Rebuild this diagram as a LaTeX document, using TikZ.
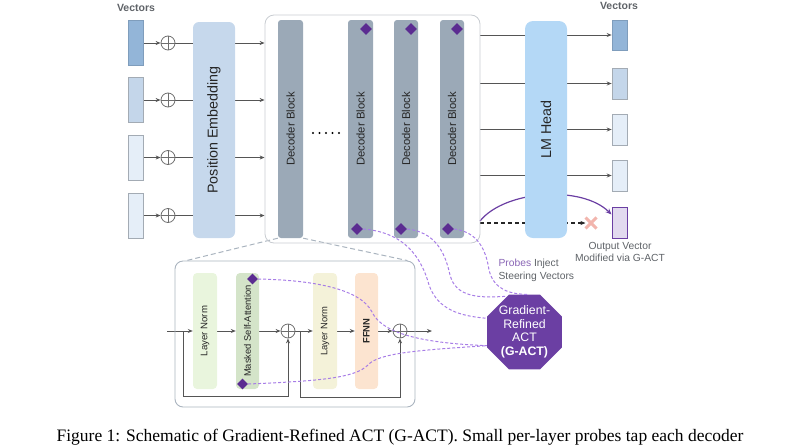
\documentclass[tikz,border=0pt]{standalone}
\usepackage{fontspec}
\setmainfont{Liberation Sans}
\newfontfamily\capfont{Liberation Serif}
\usepackage{graphicx}
\usetikzlibrary{shapes.geometric,shapes.misc,arrows.meta,backgrounds}
\definecolor{arrowgray}{HTML}{555555}
\definecolor{circgray}{HTML}{6E6E6E}
\definecolor{vecA}{HTML}{93B5D8}
\definecolor{vecAd}{HTML}{7F9DBC}
\definecolor{vecB}{HTML}{C4D6EA}
\definecolor{vecC}{HTML}{E5EEF8}
\definecolor{vecd}{HTML}{A3ABB4}
\definecolor{pefill}{HTML}{C6D8EC}
\definecolor{decfill}{HTML}{9BA9B7}
\definecolor{lmfill}{HTML}{B4D8F6}
\definecolor{contgray}{HTML}{C8CCD1}
\definecolor{detgray}{HTML}{AAB4BF}
\definecolor{gactc}{HTML}{6B3FA3}
\definecolor{diam}{HTML}{5B2C91}
\definecolor{probe}{HTML}{A77DE6}
\definecolor{outfill}{HTML}{E2DAEF}
\definecolor{lnA}{HTML}{E9F5DD}
\definecolor{msaf}{HTML}{D4E4C9}
\definecolor{lnB}{HTML}{F4F2D9}
\definecolor{ffnnf}{HTML}{FCE4D0}
\definecolor{labgray}{HTML}{5F6368}
\definecolor{xpink}{HTML}{F2B5AD}
\newcommand\fs[2]{\fontsize{#1}{#2}\selectfont}
\begin{document}
\begin{tikzpicture}[x=1pt,y=-1pt,
  vecbox/.style={draw=vecd, line width=0.6pt, minimum width=15pt, inner sep=0pt},
  blk/.style={inner sep=0pt, text=black!85},
  decblk/.style={blk, fill=decfill, rounded corners=3pt, minimum width=25pt, minimum height=218pt},
  subblk/.style={blk, rounded corners=4pt, minimum width=24pt, minimum height=116pt},
  arr/.style={draw=arrowgray, line width=0.9pt, -{Stealth[length=5pt,width=4pt]}},
  plainln/.style={draw=arrowgray, line width=0.9pt},
  oplus/.style={circle, draw=circgray, line width=0.8pt, minimum size=14pt, inner sep=0pt,
    path picture={\draw[circgray, line width=0.8pt] (path picture bounding box.north) -- (path picture bounding box.south) (path picture bounding box.west) -- (path picture bounding box.east);}},
  dmd/.style={diamond, fill=diam, minimum size=12pt, inner sep=0pt},
  probeln/.style={draw=probe, line width=1pt, dash pattern=on 3pt off 2pt},
  dotnode/.style={circle, fill=black, minimum size=2.4pt, inner sep=0pt}
]
\useasboundingbox (0,0) rectangle (800,445);

% ---------- labels
\node[font=\fs{10.5}{12}\bfseries, text=labgray] (vl) at (136,8) {Vectors};
\node[font=\fs{10.5}{12}\bfseries, text=labgray] (vr) at (619,6) {Vectors};

% ---------- input vectors
\node[vecbox, fill=vecA, draw=vecAd, minimum height=45pt] (in1) at (135.5,43) {};
\node[vecbox, fill=vecB, minimum height=45pt] (in2) at (135.5,100) {};
\node[vecbox, fill=vecC, minimum height=45pt] (in3) at (135.5,157.5) {};
\node[vecbox, fill=vecC, minimum height=45pt] (in4) at (135.5,215.5) {};
\foreach \i/\y in {1/43,2/100,3/157.5,4/215.5}
  \node[oplus] (p\i) at (168,\y) {};

% ---------- position embedding
\node[blk, fill=pefill, rounded corners=6pt, minimum width=42pt, minimum height=216pt] (pe) at (214,130)
  {\fs{14.3}{16}\rotatebox{90}{Position Embedding}};

% ---------- decoder stack
\node[draw=contgray, line width=0.8pt, rounded corners=9pt, minimum width=215pt, minimum height=228pt, inner sep=0pt] (stack) at (372.5,129) {};
\node[decblk] (d1) at (290.5,129) {\fs{11.3}{13}\rotatebox{90}{Decoder Block}};
\node[decblk] (d2) at (360.5,129) {\fs{11.3}{13}\rotatebox{90}{Decoder Block}};
\node[decblk, minimum width=24pt] (d3) at (406,129) {\fs{11.3}{13}\rotatebox{90}{Decoder Block}};
\node[decblk, minimum width=24pt] (d4) at (452,129) {\fs{11.3}{13}\rotatebox{90}{Decoder Block}};
\foreach \k/\x in {1/313,2/319.5,3/326,4/332.5,5/339}
  \node[dotnode] (dot\k) at (\x,133) {};
\node[dmd] (dt2) at (366,29) {};
\node[dmd] (dt3) at (411,29) {};
\node[dmd] (dt4) at (457,29) {};
\node[dmd] (db2) at (357,229) {};
\node[dmd] (db3) at (401,229) {};
\node[dmd] (db4) at (448,229) {};

% ---------- LM head and outputs
\node[blk, fill=lmfill, rounded corners=8pt, minimum width=42pt, minimum height=217pt] (lm) at (546,129.5)
  {\fs{14.3}{16}\rotatebox{90}{LM Head}};
\node[vecbox, fill=vecA, draw=vecAd, minimum height=30pt] (o1) at (619.5,35) {};
\node[vecbox, fill=vecB, minimum height=31pt] (o2) at (619.5,83.5) {};
\node[vecbox, fill=vecC, minimum height=31pt] (o3) at (619.5,129.5) {};
\node[vecbox, fill=vecC, minimum height=31pt] (o4) at (619.5,175.5) {};
\node[vecbox, fill=outfill, draw=gactc, line width=1pt, minimum height=31pt] (o5) at (619.5,222.5) {};
\node[cross out, draw=xpink, line width=3pt, minimum size=8pt, inner sep=0pt] (xm) at (591,223) {};
\node[font=\fs{10.3}{12.5}, text=labgray, align=center] (outlab) at (620,252) {Output Vector\\Modified via G-ACT};
\node[font=\fs{10.3}{13}, text=labgray, align=left, anchor=north west] (problab) at (495,255)
  {\textcolor{gactc!80}{Probes} Inject\\Steering Vectors};

% ---------- G-ACT octagon
\node[regular polygon, regular polygon sides=8, minimum size=81pt, inner sep=0pt, fill=gactc, text=white,
  align=center, font=\fs{12.3}{13.5}] (gact) at (524.5,332)
  {Gradient-\\Refined\\ACT\\\textbf{(G-ACT)}};

% ---------- detail box
\node[draw=detgray, line width=0.9pt, rounded corners=8pt, minimum width=240pt, minimum height=146pt, inner sep=0pt] (detail) at (295,334) {};
\node[subblk, fill=lnA] (ln1) at (205,331) {\fs{9.6}{11}\rotatebox{90}{Layer Norm}};
\node[subblk, fill=msaf, minimum width=23pt] (msa) at (247.5,331) {\fs{9.4}{11}\rotatebox{90}{Masked Self-Attention}};
\node[subblk, fill=lnB] (ln2) at (325,331) {\fs{9.4}{11}\rotatebox{90}{Layer Norm}};
\node[subblk, fill=ffnnf, minimum width=23pt] (ffnn) at (366.5,331) {\fs{9.4}{11}\bfseries\rotatebox{90}{FFNN}};
\node[oplus] (a1) at (288,331) {};
\node[oplus] (a2) at (400,331) {};
\node[dmd, minimum size=11pt] (mt) at (252.5,279) {};
\node[dmd, minimum size=11pt] (mb) at (242.5,384) {};
\coordinate (din) at (167,331);
\coordinate (j1) at (183,331);
\coordinate (j2) at (300,331);
\coordinate (dout) at (432,331);
\coordinate (cs) at (480,221);

% ---------- caption
\node[font=\capfont\fs{17.5}{20}, anchor=base] (cap) at (400,441)
  {Figure 1: Schematic of Gradient-Refined ACT (G-ACT). Small per-layer probes tap each decoder};

% ---------- connectors (behind)
\begin{scope}[on background layer]
  \foreach \i in {1,...,4} {
    \draw[arr] (in\i.east) -- (p\i.west);
    \draw[plainln] (p\i.east) -- (pe.west |- p\i);
    \draw[arr] (pe.east |- p\i) -- (stack.west |- p\i);
    \draw[arr] (stack.east |- o\i) -- (o\i.west);
  }
  \draw[draw=gactc, line width=1.2pt, -{Stealth[length=6pt,width=5pt]}] (cs) .. controls (505,190) and (582,185) .. (o5.135);
  \draw[draw=black!85, line width=1.1pt, dash pattern=on 4pt off 3pt, -{Stealth[length=5pt,width=4pt]}] (stack.east |- xm) -- (xm.west);
  % zoom-in lines
  \draw[draw=detgray, line width=1pt, dash pattern=on 5pt off 3pt] (d1.south west) -- ([xshift=12pt]detail.north west);
  \draw[draw=detgray, line width=1pt, dash pattern=on 5pt off 3pt] (d1.south east) -- ([xshift=-8pt]detail.north east);
  % detail flow
  \draw[arr] (din) -- (ln1.west);
  \draw[arr] (ln1.east) -- (msa.west);
  \draw[arr] (msa.east) -- (a1.west);
  \draw[arr] (a1.east) -- (ln2.west);
  \draw[arr] (ln2.east) -- (ffnn.west);
  \draw[arr] (ffnn.east) -- (a2.west);
  \draw[arr] (a2.east) -- (dout);
  \draw[arr] (j1) -- (183,396) -- (a1.south |- 0,396) -- (a1.south);
  \draw[arr] (j2) -- (300,397) -- (a2.south |- 0,397) -- (a2.south);
\end{scope}

% ---------- probe lines (on top)
\draw[probeln] (db2.east) .. controls (400,232) and (420,252) .. (429,285) .. controls (438,310) and (460,316) .. (gact.160);
\draw[probeln] (db3.east) .. controls (435,232) and (445,252) .. (450,275) .. controls (456,298) and (480,298) .. (gact.116);
\draw[probeln] (db4.east) .. controls (478,232) and (486,250) .. (489,270) .. controls (494,290) and (510,294) .. (gact.86);
\draw[probeln] (mt.east) .. controls (310,280) and (360,288) .. (372,312) .. controls (382,333) and (420,343) .. (gact.200);
\draw[probeln] (mb.east) .. controls (320,381) and (355,378) .. (368,365) .. controls (378,353) and (420,350) .. (gact.200);
\end{tikzpicture}
\end{document}
